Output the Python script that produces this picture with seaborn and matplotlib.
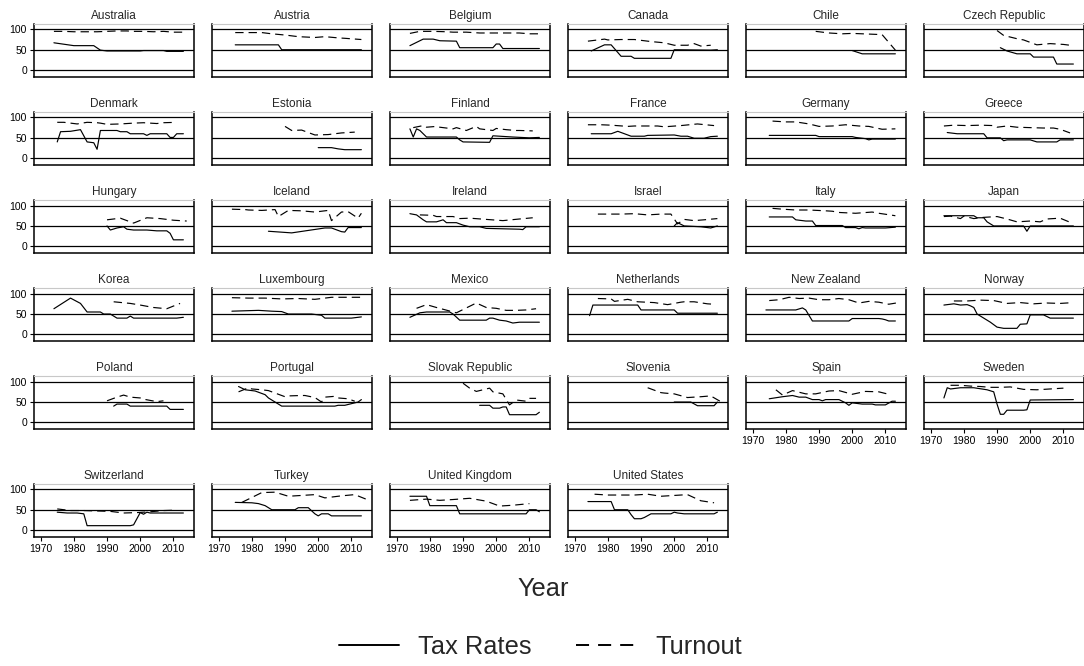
import matplotlib
matplotlib.use("Agg")
import matplotlib.pyplot as plt
from matplotlib.lines import Line2D
import seaborn as sns
import pandas as pd

# ---------------- data (year, value) ----------------
australia_tax = [(1974, 67), (1980, 60), (1986, 60), (1988, 49), (1990, 47), (2000, 47), (2001, 48), (2007, 48), (2008, 46), (2013, 46)]
australia_turnout = [(1974, 95), (1977, 95), (1980, 94), (1984, 94), (1987, 94), (1990, 95), (1993, 96), (1996, 96), (1998, 95), (2001, 95), (2004, 94), (2007, 95), (2010, 93), (2013, 93)]
austria_tax = [(1975, 62), (1988, 62), (1989, 50), (2013, 50)]
austria_turnout = [(1975, 92), (1979, 92), (1983, 92), (1986, 89), (1990, 86), (1994, 82), (1999, 80), (2002, 82), (2006, 79), (2008, 78), (2013, 75)]
belgium_tax = [(1974, 60), (1978, 76), (1981, 76), (1983, 72), (1988, 71), (1989, 55), (1999, 55), (2000, 64), (2001, 64), (2002, 53), (2013, 53)]
belgium_turnout = [(1974, 90), (1977, 95), (1981, 95), (1985, 94), (1987, 93), (1991, 93), (1995, 91), (1999, 91), (2003, 91), (2007, 91), (2010, 89), (2013, 89)]
canada_tax = [(1975, 47), (1979, 62), (1981, 62), (1984, 34), (1987, 34), (1988, 29), (1999, 29), (2000, 50), (2011, 49), (2013, 50)]
canada_turnout = [(1974, 71), (1979, 76), (1980, 74), (1984, 75), (1988, 75), (1993, 70), (1997, 67), (2000, 61), (2004, 61), (2006, 65), (2008, 59), (2011, 61)]
chile_tax = [(2000, 48), (2003, 40), (2013, 40)]
chile_turnout = [(1989, 95), (1993, 91), (1997, 89), (2000, 90), (2006, 88), (2009, 87), (2013, 49)]
czech_tax = [(1991, 55), (1993, 47), (1996, 40), (2000, 40), (2001, 32), (2007, 32), (2008, 15), (2013, 15)]
czech_turnout = [(1990, 97), (1992, 85), (1996, 77), (1998, 74), (2002, 62), (2006, 65), (2010, 63), (2013, 60)]
denmark_tax = [(1975, 40), (1976, 65), (1979, 66), (1982, 70), (1984, 40), (1986, 38), (1987, 22), (1988, 68), (1993, 68), (1994, 65), (1996, 65), (1997, 60), (2001, 60), (2002, 56), (2003, 60), (2008, 60), (2009, 51), (2010, 51), (2011, 60), (2013, 60)]
denmark_turnout = [(1975, 88), (1977, 88), (1979, 86), (1981, 84), (1984, 88), (1987, 87), (1988, 86), (1990, 83), (1994, 84), (1998, 86), (2001, 87), (2005, 85), (2007, 87), (2011, 88)]
estonia_tax = [(2000, 26), (2004, 26), (2006, 23), (2008, 21), (2013, 21)]
estonia_turnout = [(1990, 78), (1992, 68), (1995, 69), (1999, 57), (2003, 58), (2007, 62), (2011, 64)]
finland_tax = [(1974, 72), (1975, 52), (1976, 72), (1977, 68), (1978, 60), (1979, 52), (1988, 52), (1989, 45), (1990, 40), (1998, 39), (1999, 55), (2005, 52), (2010, 50), (2013, 51)]
finland_turnout = [(1975, 75), (1978, 80), (1979, 76), (1982, 78), (1983, 76), (1987, 72), (1988, 75), (1991, 68), (1994, 78), (1995, 72), (1999, 68), (2000, 73), (2003, 70), (2006, 68), (2007, 68), (2011, 67)]
france_tax = [(1975, 60), (1981, 60), (1983, 66), (1986, 57), (1987, 54), (1991, 54), (1992, 56), (2000, 57), (2002, 54), (2004, 54), (2006, 49), (2009, 49), (2011, 53), (2013, 54)]
france_turnout = [(1974, 82), (1978, 82), (1981, 81), (1986, 78), (1988, 79), (1993, 79), (1995, 79), (1997, 77), (2002, 80), (2007, 84), (2012, 80)]
germany_tax = [(1975, 56), (1989, 56), (1990, 53), (2000, 53), (2001, 51), (2004, 48), (2005, 45), (2006, 47), (2013, 47)]
germany_turnout = [(1976, 91), (1980, 89), (1983, 89), (1987, 84), (1990, 78), (1994, 79), (1998, 82), (2002, 79), (2005, 78), (2009, 71), (2013, 72)]
greece_tax = [(1975, 63), (1978, 60), (1986, 60), (1987, 50), (1991, 50), (1992, 43), (1993, 45), (2000, 45), (2002, 40), (2008, 40), (2009, 45), (2013, 45)]
greece_turnout = [(1974, 79), (1977, 81), (1981, 80), (1985, 81), (1989, 80), (1990, 76), (1993, 79), (1996, 76), (2000, 75), (2004, 74), (2007, 74), (2009, 71), (2012, 62)]
hungary_tax = [(1990, 50), (1991, 40), (1993, 45), (1995, 48), (1996, 42), (1998, 40), (2002, 40), (2005, 38), (2008, 38), (2009, 32), (2010, 16), (2013, 16)]
hungary_turnout = [(1990, 65), (1994, 69), (1998, 57), (2002, 70), (2006, 68), (2010, 64), (2014, 62)]
iceland_tax = [(1985, 37), (1992, 33), (2002, 45), (2004, 45), (2007, 36), (2008, 35), (2009, 46), (2013, 46)]
iceland_turnout = [(1974, 91), (1978, 90), (1979, 89), (1983, 88), (1987, 90), (1988, 73), (1991, 88), (1995, 87), (1999, 84), (2003, 88), (2004, 63), (2007, 84), (2009, 85), (2012, 69), (2013, 81)]
ireland_tax = [(1974, 80), (1976, 77), (1978, 65), (1979, 60), (1982, 60), (1984, 65), (1985, 58), (1988, 58), (1990, 52), (1992, 48), (1995, 48), (1997, 44), (2007, 42), (2008, 41), (2009, 48), (2013, 48)]
ireland_turnout = [(1977, 77), (1981, 76), (1982, 73), (1987, 73), (1989, 68), (1992, 69), (1997, 66), (2002, 63), (2007, 67), (2011, 70)]
israel_tax = [(2000, 50), (2001, 58), (2003, 50), (2008, 48), (2011, 45), (2013, 50)]
israel_turnout = [(1977, 79), (1981, 79), (1984, 79), (1988, 80), (1992, 77), (1996, 79), (1999, 79), (2001, 55), (2003, 66), (2006, 63), (2009, 65), (2013, 68)]
italy_tax = [(1975, 72), (1982, 72), (1983, 65), (1986, 62), (1988, 62), (1989, 51), (1997, 51), (1998, 46), (2001, 46), (2002, 43), (2003, 46), (2004, 45), (2010, 45), (2013, 47)]
italy_turnout = [(1976, 93), (1979, 91), (1983, 89), (1987, 89), (1992, 87), (1994, 86), (1996, 83), (2001, 81), (2006, 84), (2008, 81), (2013, 75)]
japan_tax = [(1974, 75), (1983, 75), (1984, 70), (1986, 70), (1987, 60), (1989, 50), (1998, 50), (1999, 37), (2000, 50), (2013, 50)]
japan_turnout = [(1974, 73), (1976, 74), (1979, 68), (1980, 74), (1983, 68), (1986, 71), (1990, 73), (1993, 67), (1996, 60), (2000, 62), (2003, 60), (2005, 67), (2009, 69), (2012, 59)]
korea_tax = [(1974, 63), (1979, 89), (1982, 76), (1984, 55), (1988, 55), (1989, 50), (1991, 50), (1992, 45), (1993, 40), (1996, 40), (1997, 45), (1998, 40), (2011, 40), (2013, 42)]
korea_turnout = [(1992, 80), (1997, 76), (2000, 72), (2004, 66), (2008, 63), (2012, 76)]
luxembourg_tax = [(1974, 57), (1982, 59), (1984, 58), (1986, 57), (1989, 56), (1991, 50), (1998, 50), (2001, 47), (2002, 40), (2010, 40), (2013, 43)]
luxembourg_turnout = [(1974, 90), (1979, 89), (1984, 89), (1989, 87), (1994, 88), (1999, 86), (2004, 91), (2009, 91), (2013, 91)]
mexico_tax = [(1974, 42), (1977, 53), (1979, 55), (1986, 55), (1987, 50), (1989, 35), (1997, 35), (1998, 40), (1999, 40), (2001, 35), (2003, 33), (2005, 28), (2007, 30), (2013, 30)]
mexico_turnout = [(1976, 64), (1979, 73), (1982, 66), (1988, 53), (1994, 77), (1997, 66), (2000, 64), (2003, 59), (2006, 59), (2009, 60), (2012, 63)]
netherlands_tax = [(1974.5, 46), (1975.5, 72), (1989, 72), (1990, 60), (2000, 60), (2001, 52), (2013, 52)]
netherlands_turnout = [(1977, 88), (1981, 87), (1982, 81), (1986, 86), (1989, 80), (1994, 78), (1998, 73), (2002, 79), (2003, 80), (2006, 80), (2010, 75), (2012, 74)]
newzealand_tax = [(1974, 60), (1983, 60), (1985, 65), (1986, 60), (1988, 33), (1999, 33), (2000, 39), (2008, 39), (2009, 38), (2010, 36), (2011, 33), (2013, 33)]
newzealand_turnout = [(1975, 83), (1978, 85), (1981, 91), (1984, 88), (1987, 89), (1990, 85), (1993, 85), (1996, 88), (1999, 85), (2002, 77), (2005, 81), (2008, 79), (2011, 74), (2014, 78)]
norway_tax = [(1974, 72), (1977, 75), (1979, 72), (1981, 73), (1982, 70), (1983, 66), (1984, 50), (1986, 40), (1988, 30), (1990, 18), (1992, 15), (1996, 15), (1997, 25), (1999, 26), (2000, 48), (2004, 48), (2006, 40), (2013, 40)]
norway_turnout = [(1977, 82), (1981, 82), (1985, 84), (1989, 83), (1993, 76), (1997, 78), (2001, 75), (2005, 77), (2009, 76), (2013, 78)]
poland_tax = [(1992, 40), (1993, 45), (1996, 45), (1997, 40), (2008, 40), (2009, 32), (2013, 32)]
poland_turnout = [(1990, 53), (1993, 62), (1995, 67), (1997, 62), (2000, 60), (2001, 57), (2005, 51), (2007, 53)]
portugal_tax = [(1976, 88), (1978, 80), (1981, 77), (1984, 68), (1985, 60), (1987, 50), (1989, 40), (2005, 40), (2006, 42), (2008, 42), (2010, 46), (2012, 50), (2013, 56)]
portugal_turnout = [(1976, 75), (1979, 85), (1980, 82), (1983, 80), (1985, 78), (1987, 72), (1990, 63), (1991, 65), (1995, 66), (1996, 66), (1999, 61), (2001, 50), (2002, 62), (2005, 64), (2006, 60), (2009, 58), (2011, 52)]
slovakia_tax = [(1995, 42), (1998, 42), (1999, 35), (2001, 35), (2002, 38), (2003, 38), (2004, 19), (2012, 19), (2013, 25)]
slovakia_turnout = [(1990, 96), (1992, 84), (1994, 76), (1998, 84), (1999, 75), (2002, 70), (2004, 43), (2006, 55), (2009, 52), (2010, 59), (2012, 59)]
slovenia_tax = [(2000, 50), (2005, 50), (2007, 41), (2012, 41), (2013, 50)]
slovenia_turnout = [(1992, 85), (1996, 73), (1997, 72), (2000, 70), (2004, 61), (2008, 63), (2011, 65), (2014, 51)]
spain_tax = [(1975, 58), (1979, 63), (1982, 66), (1984, 62), (1986, 62), (1988, 56), (1990, 56), (1991, 53), (1992, 56), (1996, 56), (1998, 48), (1999, 42), (2000, 48), (2003, 45), (2006, 45), (2007, 43), (2010, 43), (2012, 52), (2013, 52)]
spain_turnout = [(1977, 80), (1979, 67), (1982, 78), (1986, 70), (1989, 70), (1993, 77), (1996, 78), (2000, 69), (2004, 76), (2008, 75), (2011, 69)]
sweden_tax = [(1974, 60), (1975, 85), (1976, 82), (1979, 85), (1983, 85), (1987, 80), (1989, 75), (1990, 45), (1991, 20), (1992, 20), (1993, 30), (1998, 30), (1999, 31), (2000, 55), (2013, 56)]
sweden_turnout = [(1976, 91), (1979, 91), (1982, 89), (1985, 88), (1988, 86), (1991, 86), (1994, 87), (1998, 81), (2002, 80), (2006, 82), (2010, 84)]
switzerland_tax = [(1975, 44), (1978, 42), (1981, 42), (1983, 40), (1984, 11), (1997, 11), (1998, 13), (2000, 43), (2001, 39), (2002, 44), (2003, 42), (2013, 42)]
switzerland_turnout = [(1975, 52), (1979, 48), (1983, 48), (1987, 47), (1991, 46), (1995, 42), (1999, 43), (2003, 45), (2007, 48), (2011, 49)]
turkey_tax = [(1975, 68), (1980, 67), (1982, 65), (1984, 60), (1986, 50), (1993, 50), (1994, 55), (1997, 55), (1999, 40), (2000, 35), (2001, 40), (2003, 40), (2004, 35), (2013, 35)]
turkey_turnout = [(1977, 68), (1983, 92), (1987, 93), (1991, 83), (1995, 85), (1999, 87), (2002, 79), (2007, 84), (2011, 87), (2015, 74)]
uk_tax = [(1974, 83), (1979, 83), (1980, 60), (1988, 60), (1989, 40), (2009, 40), (2010, 50), (2012, 50), (2013, 45)]
uk_turnout = [(1974, 73), (1979, 76), (1983, 73), (1987, 75), (1992, 78), (1997, 71), (2001, 59), (2005, 61), (2010, 65)]
us_tax = [(1974, 70), (1981, 70), (1982, 50), (1986, 50), (1987, 38), (1988, 28), (1990, 28), (1991, 31), (1993, 40), (1999, 40), (2000, 44), (2001, 42), (2003, 40), (2012, 40), (2013, 44)]
us_turnout = [(1976, 88), (1980, 86), (1984, 86), (1988, 86), (1992, 88), (1996, 83), (2000, 85), (2004, 87), (2008, 72), (2012, 67)]

COUNTRIES = ["Australia", "Austria", "Belgium", "Canada", "Chile", "Czech Republic",
             "Denmark", "Estonia", "Finland", "France", "Germany", "Greece",
             "Hungary", "Iceland", "Ireland", "Israel", "Italy", "Japan",
             "Korea", "Luxembourg", "Mexico", "Netherlands", "New Zealand", "Norway",
             "Poland", "Portugal", "Slovak Republic", "Slovenia", "Spain", "Sweden",
             "Switzerland", "Turkey", "United Kingdom", "United States"]
TAX = [australia_tax, austria_tax, belgium_tax, canada_tax, chile_tax, czech_tax,
       denmark_tax, estonia_tax, finland_tax, france_tax, germany_tax, greece_tax,
       hungary_tax, iceland_tax, ireland_tax, israel_tax, italy_tax, japan_tax,
       korea_tax, luxembourg_tax, mexico_tax, netherlands_tax, newzealand_tax, norway_tax,
       poland_tax, portugal_tax, slovakia_tax, slovenia_tax, spain_tax, sweden_tax,
       switzerland_tax, turkey_tax, uk_tax, us_tax]
TURNOUT = [australia_turnout, austria_turnout, belgium_turnout, canada_turnout, chile_turnout, czech_turnout,
           denmark_turnout, estonia_turnout, finland_turnout, france_turnout, germany_turnout, greece_turnout,
           hungary_turnout, iceland_turnout, ireland_turnout, israel_turnout, italy_turnout, japan_turnout,
           korea_turnout, luxembourg_turnout, mexico_turnout, netherlands_turnout, newzealand_turnout, norway_turnout,
           poland_turnout, portugal_turnout, slovakia_turnout, slovenia_turnout, spain_turnout, sweden_turnout,
           switzerland_turnout, turkey_turnout, uk_turnout, us_turnout]
X_TICKS = [1970, 1980, 1990, 2000, 2010]
Y_TICKS = [0, 50, 100]

rows = []
for name, tx, tu in zip(COUNTRIES, TAX, TURNOUT):
    for y, v in tx:
        rows.append((name, "Tax Rates", y, v))
    for y, v in tu:
        rows.append((name, "Turnout", y, v))
df = pd.DataFrame(rows, columns=["country", "series", "year", "value"])

# ---------------- style ----------------
sns.set_style("white")
plt.rcParams["font.family"] = ["Liberation Sans", "DejaVu Sans"]
plt.rcParams["lines.scale_dashes"] = False

W, H = 1084, 666
fig = plt.figure(figsize=(W / 100, H / 100), dpi=100)
fig.patch.set_facecolor("white")

col_left = [34 + 178 * c for c in range(6)]
row_bottom = [76.7, 164.8, 252.9, 341.0, 429.0, 536.7]
pw, ph = 160, 52.7
DASH = (0, (6.0, 3.6))

n = len(COUNTRIES)
for i, name in enumerate(COUNTRIES):
    r, c = divmod(i, 6)
    ax = fig.add_axes([col_left[c] / W, 1 - row_bottom[r] / H, pw / W, ph / H])
    ax.set_facecolor("white")
    for g in Y_TICKS:
        ax.axhline(g, color="black", lw=0.9, zorder=1)
    sub = df[df.country == name]
    sns.lineplot(data=sub[sub.series == "Tax Rates"], x="year", y="value", ax=ax,
                 color="black", lw=0.85, estimator=None, sort=False, legend=False, zorder=3)
    sns.lineplot(data=sub[sub.series == "Turnout"], x="year", y="value", ax=ax,
                 color="black", lw=0.85, estimator=None, sort=False, legend=False,
                 linestyle=DASH, zorder=3)
    ax.set_xlim(1968, 2016.2)
    ax.set_ylim(-16, 113)
    ax.set_xlabel("")
    ax.set_ylabel("")
    ax.set_title(name, fontsize=8.5, pad=3.5)
    for s in ["left", "right", "bottom"]:
        ax.spines[s].set_visible(True)
        ax.spines[s].set_color("black")
        ax.spines[s].set_linewidth(1.1)
    ax.spines["top"].set_visible(True)
    ax.spines["top"].set_color("#c8c8c8")
    ax.spines["top"].set_linewidth(0.8)

    show_x = (i + 6 >= n)
    if show_x:
        ax.set_xticks(X_TICKS)
        ax.tick_params(axis="x", which="both", bottom=True, length=3, width=0.8,
                       labelsize=7.5, pad=2, colors="black")
    else:
        ax.set_xticks([])
    if c == 0:
        ax.set_yticks(Y_TICKS)
        ax.tick_params(axis="y", which="both", left=True, length=3, width=0.8,
                       labelsize=7.5, pad=2, colors="black")
    else:
        ax.set_yticks([])

fig.text(543 / W, 1 - 589 / H, "Year", ha="center", va="center", fontsize=18.3)

handles = [Line2D([], [], color="black", lw=1.4),
           Line2D([], [], color="black", lw=1.4, linestyle=(0, (9.4, 6.5)))]
fig.legend(handles, ["Tax Rates", "Turnout"], loc="center",
           bbox_to_anchor=(540.5 / W, 1 - 647 / H), ncol=2, frameon=False,
           fontsize=18.3, handlelength=2.36, handletextpad=0.75, columnspacing=1.73,
           borderpad=0, borderaxespad=0)

fig.savefig("out.png", dpi=100, facecolor="white")
